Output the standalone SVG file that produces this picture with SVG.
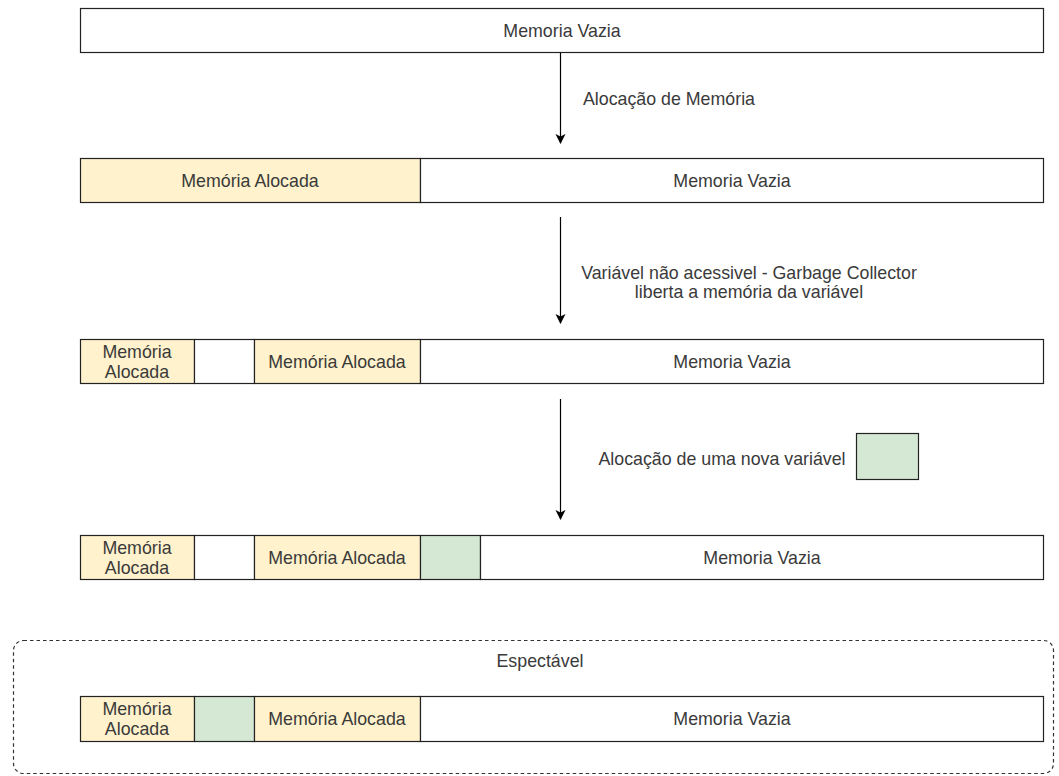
<svg xmlns="http://www.w3.org/2000/svg" width="1059" height="776" viewBox="0 0 1059 776">
<defs>
<style>
.cell{stroke:#222;stroke-width:1.2}
.empty{fill:#ffffff}
.alloc{fill:#fff2cc}
.newv{fill:#d5e8d4}
text{font-family:"Liberation Sans",Arial,sans-serif;font-size:17.8px;fill:#3a3a3a;text-anchor:middle;dominant-baseline:central}
.conn{stroke:#000;stroke-width:1.2;fill:none}
</style>
<marker id="arr" markerWidth="12" markerHeight="12" refX="9" refY="6" orient="auto" markerUnits="userSpaceOnUse">
<path d="M0,1 L10,6 L0,11 L2.5,6 Z" fill="#000"/>
</marker>
</defs>
<rect width="1059" height="776" fill="#fff"/>

<g id="expected-group">
<rect x="13.5" y="640.5" width="1040" height="133" rx="10" fill="none" stroke="#333" stroke-width="1.2" stroke-dasharray="3.5 3"/>
<text x="540" y="661">Espectável</text>
</g>

<g id="row1">
<rect class="cell empty" x="80.5" y="8.5" width="963" height="44"/>
<text x="562" y="30.5">Memoria Vazia</text>
</g>

<g id="row2">
<rect class="cell alloc" x="80.5" y="158.5" width="340" height="44"/>
<text x="250" y="180.5">Memória Alocada</text>
<rect class="cell empty" x="420.5" y="158.5" width="623" height="44"/>
<text x="732" y="180.5">Memoria Vazia</text>
</g>

<g id="row3">
<rect class="cell alloc" x="80.5" y="339.5" width="114" height="44"/>
<text x="137" y="352">Memória</text>
<text x="137" y="372">Alocada</text>
<rect class="cell empty" x="194.5" y="339.5" width="60" height="44"/>
<rect class="cell alloc" x="254.5" y="339.5" width="166" height="44"/>
<text x="337" y="361.5">Memória Alocada</text>
<rect class="cell empty" x="420.5" y="339.5" width="623" height="44"/>
<text x="732" y="361.5">Memoria Vazia</text>
</g>

<g id="row4">
<rect class="cell alloc" x="80.5" y="535.5" width="114" height="44"/>
<text x="137" y="548">Memória</text>
<text x="137" y="568">Alocada</text>
<rect class="cell empty" x="194.5" y="535.5" width="60" height="44"/>
<rect class="cell alloc" x="254.5" y="535.5" width="166" height="44"/>
<text x="337" y="557.5">Memória Alocada</text>
<rect class="cell newv" x="420.5" y="535.5" width="60" height="44"/>
<rect class="cell empty" x="480.5" y="535.5" width="563" height="44"/>
<text x="762" y="557.5">Memoria Vazia</text>
</g>

<g id="row5">
<rect class="cell alloc" x="80.5" y="696.5" width="114" height="45"/>
<text x="137" y="709">Memória</text>
<text x="137" y="729">Alocada</text>
<rect class="cell newv" x="194.5" y="696.5" width="60" height="45"/>
<rect class="cell alloc" x="254.5" y="696.5" width="166" height="45"/>
<text x="337" y="719">Memória Alocada</text>
<rect class="cell empty" x="420.5" y="696.5" width="623" height="45"/>
<text x="732" y="719">Memoria Vazia</text>
</g>

<g id="legend-new-var">
<rect class="cell newv" x="856.5" y="433.5" width="62" height="46"/>
</g>

<g id="connectors">
<line class="conn" x1="560.5" y1="53" x2="560.5" y2="143" marker-end="url(#arr)"/>
<line class="conn" x1="560.5" y1="217" x2="560.5" y2="323" marker-end="url(#arr)"/>
<line class="conn" x1="560.5" y1="399" x2="560.5" y2="519" marker-end="url(#arr)"/>
<text x="669" y="99">Alocação de Memória</text>
<text x="749" y="273">Variável não acessivel - Garbage Collector</text>
<text x="749" y="292">liberta a memória da variável</text>
<text x="722" y="459">Alocação de uma nova variável</text>
</g>
</svg>
